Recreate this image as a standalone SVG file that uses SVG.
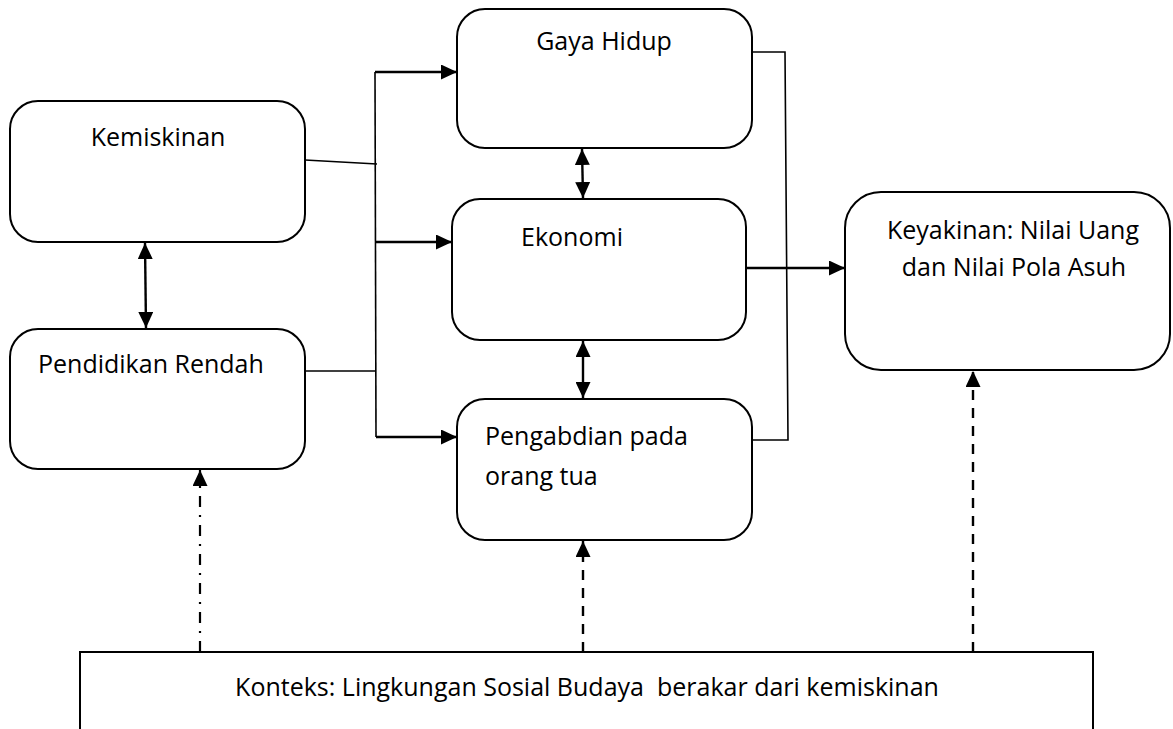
<svg xmlns="http://www.w3.org/2000/svg" width="1173" height="729" viewBox="0 0 1173 729">
<style>
.box{fill:#fff;stroke:#000;stroke-width:2}
.t{font-family:"Open Sans","Liberation Sans",sans-serif;font-size:25px;fill:#000}
.ln{fill:none;stroke:#000;stroke-width:1.6}
.ar{fill:none;stroke:#000;stroke-width:2.4}
.dash{fill:none;stroke:#000;stroke-width:2.4;stroke-dasharray:10 8}
.dd{fill:none;stroke:#000;stroke-width:2.2;stroke-dasharray:11 8 2 8}
</style>
<defs>
<marker id="ah" markerUnits="userSpaceOnUse" markerWidth="17" markerHeight="15" refX="16" refY="7.5" orient="auto-start-reverse">
<path d="M0,0 L16,7.5 L0,15 Z" fill="#000"/>
</marker>
</defs>
<rect width="1173" height="729" fill="#fff"/>
<g id="connectors">
<path class="ln" d="M305,160 L377,164"/>
<path class="ln" d="M305,371 L376,371"/>
<path class="ln" d="M375,72 L376,437"/>
<path class="ar" d="M375,72 L457,72" marker-end="url(#ah)"/>
<path class="ar" d="M375,242 L452,242" marker-end="url(#ah)"/>
<path class="ar" d="M376,437 L457,437" marker-end="url(#ah)"/>
<path class="ln" d="M752,52 L785,52 L788,440 L752,440"/>
<path class="ar" d="M746,268 L845,268" marker-end="url(#ah)"/>
<path class="ar" d="M145,243 L146,328" marker-start="url(#ah)" marker-end="url(#ah)"/>
<path class="ar" d="M582,149 L583,198" marker-start="url(#ah)" marker-end="url(#ah)"/>
<path class="ar" d="M583,341 L583,398" marker-start="url(#ah)" marker-end="url(#ah)"/>
<path class="dd" d="M200,652 L200,470" marker-end="url(#ah)"/>
<path class="dash" d="M583,652 L583,541" marker-end="url(#ah)"/>
<path class="dash" d="M973,652 L973,371" marker-end="url(#ah)"/>
</g>
<g id="kemiskinan">
<rect class="box" x="10" y="101" width="295" height="141" rx="28"/>
<text class="t" x="158" y="146" text-anchor="middle">Kemiskinan</text>
</g>
<g id="pendidikan">
<rect class="box" x="10" y="329" width="295" height="140" rx="28"/>
<text class="t" x="38" y="373">Pendidikan Rendah</text>
</g>
<g id="gaya-hidup">
<rect class="box" x="457" y="9" width="295" height="139" rx="28"/>
<text class="t" x="604" y="50" text-anchor="middle">Gaya Hidup</text>
</g>
<g id="ekonomi">
<rect class="box" x="452" y="199" width="294" height="141" rx="28"/>
<text class="t" x="572" y="246" text-anchor="middle">Ekonomi</text>
</g>
<g id="pengabdian">
<rect class="box" x="457" y="399" width="295" height="141" rx="28"/>
<text class="t" x="485" y="445">Pengabdian pada</text>
<text class="t" x="485" y="485">orang tua</text>
</g>
<g id="keyakinan">
<rect class="box" x="845" y="192" width="325" height="178" rx="36"/>
<text class="t" x="1013" y="239" text-anchor="middle">Keyakinan: Nilai Uang</text>
<text class="t" x="1014" y="276" text-anchor="middle">dan Nilai Pola Asuh</text>
</g>
<g id="konteks">
<rect class="box" x="80" y="652" width="1013" height="100"/>
<text class="t" x="587" y="696" text-anchor="middle" xml:space="preserve">Konteks: Lingkungan Sosial Budaya  berakar dari kemiskinan</text>
</g>
</svg>
